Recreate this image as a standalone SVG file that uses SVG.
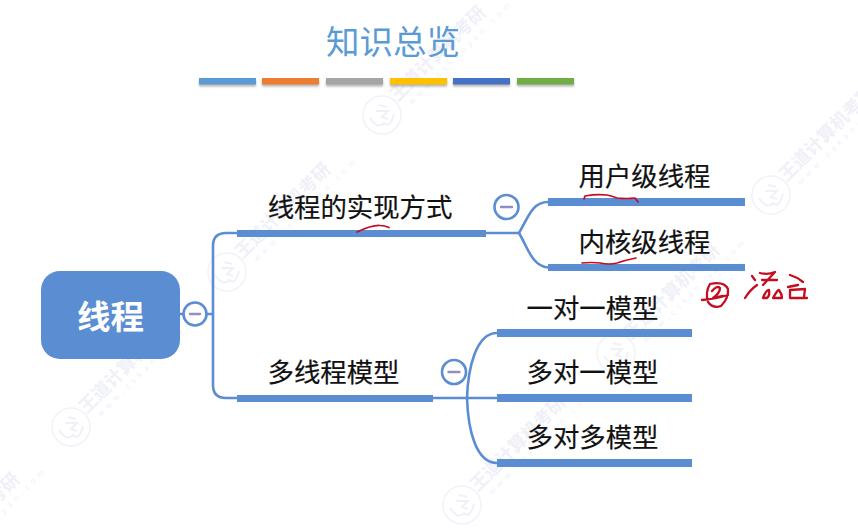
<svg xmlns="http://www.w3.org/2000/svg" width="858" height="532" viewBox="0 0 858 532">
<style>
text{font-family:"Noto Sans CJK SC","Liberation Sans",sans-serif}
.lbl{font-size:26.4px;fill:#111;text-anchor:middle;stroke:#111;stroke-width:.2}
.bar{fill:#5b8dd2}
.con{fill:none;stroke:#5b8dd2;stroke-width:2.6}
.tog{fill:#fff;stroke:#5b8dd2;stroke-width:2.6}
.minus{stroke:#8f8fc0;stroke-width:2.4;stroke-linecap:round}
.ink{fill:none;stroke:#c40d20;stroke-width:1.7;stroke-linecap:round;stroke-linejoin:round}
.ink2{fill:none;stroke:#c40d20;stroke-width:2.3;stroke-linecap:round;stroke-linejoin:round}
.wm1{font-size:18px;font-weight:700;fill:#f0f0f8}
.wm2{font-size:8px;letter-spacing:4.4px;fill:#f1f1f8}
.sw{height:6.5px;width:57px}
</style>
<defs>
<filter id="sh" x="-10%" y="-60%" width="120%" height="260%"><feGaussianBlur stdDeviation="1"/></filter>
<g id="wm">
<circle r="19" fill="none" stroke="#f1f1f8" stroke-width="1.4"/>
<path d="M-3-10 5-8M-6-4 6-4 0 2 6 4M-12 3Q-4 15 2 8Q8 14 12-1" fill="none" stroke="#f0f0f8" stroke-width="2"/>
<g transform="rotate(-45)">
<text class="wm1" x="20" y="2">王道计算机考研</text>
<text class="wm2" x="28" y="14">www.cskaoyan.com</text>
</g>
</g>
</defs>
<rect width="858" height="532" fill="#fff"/>
<g id="watermarks">
<use href="#wm" x="-84" y="582"/>
<use href="#wm" x="71" y="427"/>
<use href="#wm" x="227" y="272"/>
<use href="#wm" x="382" y="115"/>
<use href="#wm" x="462" y="505"/>
<use href="#wm" x="616" y="353"/>
<use href="#wm" x="771" y="195"/>
</g>
<g id="title">
<text x="393" y="54" text-anchor="middle" font-size="33.500" fill="#5b9bd5">知识总览</text>
</g>
<g id="color-bars">
<g filter="url(#sh)" fill="#777" opacity=".55">
<rect class="sw" x="199" y="80"/><rect class="sw" x="262" y="80"/><rect class="sw" x="326" y="80"/><rect class="sw" x="390" y="80"/><rect class="sw" x="453" y="80"/><rect class="sw" x="517" y="80"/>
</g>
<rect class="sw" x="199" y="78" fill="#5b9bd5"/>
<rect class="sw" x="262" y="78" fill="#ed7d31"/>
<rect class="sw" x="326" y="78" fill="#a5a5a5"/>
<rect class="sw" x="390" y="78" fill="#ffc000"/>
<rect class="sw" x="453" y="78" fill="#4472c4"/>
<rect class="sw" x="517" y="78" fill="#70ad47"/>
</g>
<g id="connectors">
<path class="con" d="M180 314H213"/>
<path class="con" d="M237 233H226Q213 233 213 246V385Q213 398 226 398H237"/>
<path class="con" d="M486 233H519"/>
<path class="con" d="M519 233C528 218 532 202 548 202"/>
<path class="con" d="M519 233C528 248 532 266 548 267.500"/>
<path class="con" d="M433 398H497"/>
<path class="con" d="M497 333C476 333 468 368 467 398C468 430 476 463 497 463"/>
</g>
<g id="root">
<rect x="41" y="271" width="139" height="88" rx="19" fill="#5b8dd2"/>
<text x="110.500" y="329" text-anchor="middle" font-size="33.500" font-weight="700" fill="#fff">线程</text>
</g>
<g id="toggle-root"><circle class="tog" cx="195" cy="314" r="11.500"/><path class="minus" d="M190 314H200"/></g>
<g id="n1"><text class="lbl" x="360" y="217">线程的实现方式</text><rect class="bar" x="237" y="230" width="249" height="7"/></g>
<g id="toggle-n1"><circle class="tog" cx="506.500" cy="207" r="12"/><path class="minus" d="M501 207H512"/></g>
<g id="n2"><text class="lbl" x="333.500" y="382">多线程模型</text><rect class="bar" x="237" y="395" width="196" height="7"/></g>
<g id="toggle-n2"><circle class="tog" cx="454" cy="372" r="12"/><path class="minus" d="M448.500 372H459.500"/></g>
<g id="n11"><text class="lbl" x="644.500" y="186">用户级线程</text><rect class="bar" x="548" y="198" width="197" height="8"/></g>
<g id="n12"><text class="lbl" x="644.500" y="252">内核级线程</text><rect class="bar" x="548" y="264" width="197" height="7"/></g>
<g id="n21"><text class="lbl" x="592.500" y="318">一对一模型</text><rect class="bar" x="497" y="329" width="195" height="8"/></g>
<g id="n22"><text class="lbl" x="592.500" y="382">多对一模型</text><rect class="bar" x="497" y="394" width="195" height="8"/></g>
<g id="n23"><text class="lbl" x="592.500" y="447">多对多模型</text><rect class="bar" x="497" y="459" width="195" height="8"/></g>
<g id="handwriting">
<path class="ink" d="M357 232Q372 225 380 225.500Q385 225.500 389 227.500"/>
<path class="ink" d="M584 199L585 196Q596 194 607 195Q612 196 617 198Q627 199 635 198L638 202"/>
<path class="ink" d="M582 263Q592 262 600 263Q610 265 617 263Q626 260 636 258"/>
<path class="ink2" d="M710 284Q705 292 708 302Q713 309 721 306Q729 298 728 289Q724 281 710 284M702 300Q716 299 728 295M712 291Q717 285 720 288Q720 293 713 298L723 296"/>
<path class="ink2" d="M752 276 755 280M745 298Q750 290 757 285M760 273Q768 275 775 272L763 285M762 280H777M763 298Q766 290 769 290Q770 296 767 298ZM773 298Q778 289 779 290Q782 294 782 298Z"/>
<path class="ink2" d="M790 275Q797 277 803 282M788 287 798 285M790 290 805 289 804 297M790 298 807 298M790 290V298"/>
</g>
</svg>
